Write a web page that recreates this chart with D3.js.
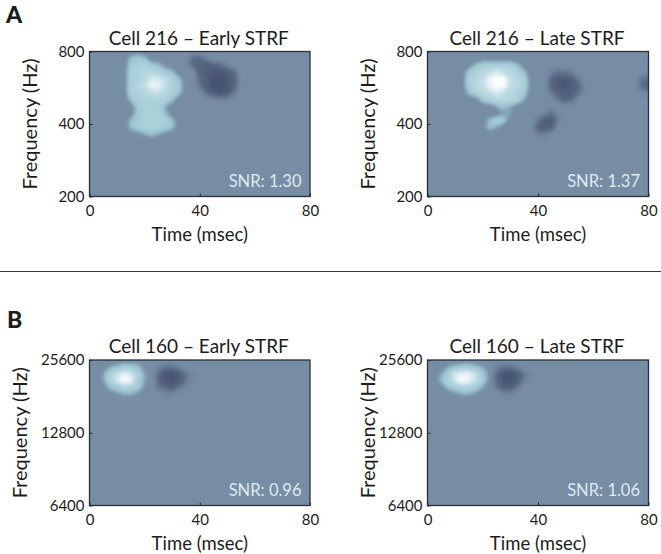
<!DOCTYPE html>
<html><head><meta charset="utf-8">
<script src="https://cdn.jsdelivr.net/npm/d3@7/dist/d3.min.js"></script>
<style>html,body{margin:0;padding:0;background:#fff}svg{display:block}text{font-family:Lato,sans-serif;fill:#1c1c1c}</style>
</head><body><svg id="c" width="661" height="554"></svg>
<script>
// Heatmap samples: [row, firstColumn, values...] on a 33 x 22 grid (2.5 msec columns, log-spaced rows). Everything else is 0.
const cell216Early = [
 [1,6,3,4,3],[2,6,4,5,5,4,3,1],[3,6,5,5,6,6,5,4,3],[4,6,5,5,6,8,8,7,5,3],
 [5,6,5,6,7,9,9,7,5,4],[6,6,5,5,6,7,7,6,5,3],[7,6,3,5,5,5,5,5,3],
 [8,7,4,5,5,5,2],[9,7,4,5,5,5,3],[10,6,3,4,5,5,5,5,3],[11,6,3,4,5,5,5,4,3],[12,7,1,2,3,2,1],
 [1,15,-4,-4,-2],[2,15,-4,-5,-6,-5,-4,-2],[3,16,-5,-6,-7,-7,-6,-4],[4,16,-4,-6,-8,-8,-7,-5],
 [5,16,-3,-6,-8,-8,-7,-5],[6,17,-4,-6,-7,-6,-3],[7,18,-1,-2,-1]
];
const cell216Late = [
 [2,7,3,5,5,5,5,5,3],[3,6,4,5,6,7,8,7,6,5,3],[4,6,5,6,7,9,10,10,7,6,5],[5,6,5,6,7,9,10,10,7,6,5],
 [6,6,3,5,6,7,8,7,6,5,4],[7,8,4,5,6,6,6,5,2],[8,10,2,3,2],
 [9,11,2,2],[10,9,3,5,4],[11,8,1,3,2],
 [3,18,-2,-3,-3,-2],[4,18,-5,-6,-7,-5,-2],[5,18,-5,-7,-7,-6,-4],[6,18,-3,-5,-6,-6,-3],[7,19,-3,-5,-3],
 [9,17,-2,-4,-1],[10,16,-3,-6,-6,-2],[11,16,-5,-6,-5],[12,16,-2,-2],
 [3,32,-1],[4,31,-3,-4],[5,31,-4,-5],[6,31,-1,-2]
];
const cell160Early = [
 [1,3,2,3,4,4,3,1],[2,2,2,5,7,9,8,5,2,1],[3,2,2,5,8,10,9,5,2,1],[4,3,3,4,5,5,4,1],[5,4,1,2,2,1],
 [1,10,-2,-3,-3,-2],[2,10,-4,-7,-8,-6,-3,-1],[3,10,-4,-7,-8,-6,-3,-1],[4,10,-3,-4,-5,-3,-1],[5,11,-1,-1],
 [7,11,0.6],[8,11,0.6]
];
const cell160Late = [
 [1,3,2,3,4,4,3,2,1],[2,2,2,5,8,9,9,7,4,1],[3,2,3,5,8,10,9,7,4,1],[4,3,3,4,5,5,4,2],[5,4,1,2,2,1],
 [1,10,-2,-3,-3,-2],[2,10,-4,-7,-8,-6,-3,-1],[3,10,-4,-8,-8,-6,-2,-1],[4,10,-3,-5,-5,-3],[5,11,-1,-1],
 [7,11,0.6],[8,11,0.6]
];
const timeTicks = [0,40,80];
const freqTicksA = [200,400,800];
const freqTicksB = [6400,12800,25600];
const colorStops = [-8,-4,-1.5,1.5,3,5,7,8.5,10];
const colorValues = ["#46536f","#5a6a86","#72889f","#7a91a8","#9cc4d0","#abd0da","#c2dde5","#dfeff3","#ffffff"];
const colsN = 33, rowsN = 22;

const panels = [
 {title:"Cell 216 – Early STRF",snr:"SNR: 1.30",data:cell216Early,ft:freqTicksA,x:[89.5,310],y:[51.5,196.5],lab:30},
 {title:"Cell 216 – Late STRF", snr:"SNR: 1.37",data:cell216Late, ft:freqTicksA,x:[427.5,648.5],y:[51.5,196.5],lab:368},
 {title:"Cell 160 – Early STRF",snr:"SNR: 0.96",data:cell160Early,ft:freqTicksB,x:[89.5,310],y:[360,505.5],lab:20},
 {title:"Cell 160 – Late STRF", snr:"SNR: 1.06",data:cell160Late, ft:freqTicksB,x:[427.5,648.5],y:[360,505.5],lab:368}
];
const svg = d3.select("#c");
const color = d3.scaleLinear().domain(colorStops).range(colorValues).clamp(true);
const defs = svg.append("defs");
defs.append("filter").attr("id","soft").attr("x","0").attr("y","0").attr("width","1").attr("height","1")
  .append("feGaussianBlur").attr("stdDeviation",1.7);

panels.forEach((p,idx)=>{
  const x = d3.scaleLinear().domain([0,80]).range(p.x);
  const y = d3.scaleLog().base(2).domain([p.ft[0],p.ft[2]]).range([p.y[1],p.y[0]]);
  const grid = new Array(colsN*rowsN).fill(0);
  p.data.forEach(([r,c,...vals])=>vals.forEach((v,k)=>{grid[r*colsN+c+k]=v;}));
  const tAt = i=>(i-0.5)*80/(colsN-1);
  const fAt = j=>p.ft[2]*Math.pow(p.ft[0]/p.ft[2],(j-0.5)/(rowsN-1));
  const geo = d3.geoPath(d3.geoTransform({point(a,b){this.stream.point(x(tAt(a)),y(fAt(b)));}}));
  const thresholds = d3.range(-9.75,10.5,0.5);
  const contours = d3.contours().size([colsN,rowsN]).smooth(true).thresholds(thresholds)(grid);
  defs.append("clipPath").attr("id","clip"+idx).append("rect")
    .attr("x",p.x[0]).attr("y",p.y[0]).attr("width",p.x[1]-p.x[0]).attr("height",p.y[1]-p.y[0]);
  const g = svg.append("g").attr("clip-path",`url(#clip${idx})`).append("g").attr("filter","url(#soft)");
  g.append("rect").attr("x",p.x[0]-6).attr("y",p.y[0]-6).attr("width",p.x[1]-p.x[0]+12).attr("height",p.y[1]-p.y[0]+12).attr("fill",color(0));
  g.selectAll("path").data(contours).join("path").attr("d",geo)
    .attr("fill",d=>color(d.value+0.25)).attr("stroke",d=>color(d.value+0.25)).attr("stroke-width",0.3);

  const ax = svg.append("g").attr("transform",`translate(0,${p.y[1]})`)
    .call(d3.axisBottom(x).tickValues(timeTicks).tickSizeInner(-3).tickSizeOuter(0).tickPadding(9).tickFormat(d3.format("d")));
  const ay = svg.append("g").attr("transform",`translate(${p.x[0]},0)`)
    .call(d3.axisLeft(y).tickValues(p.ft).tickSizeInner(-3).tickSizeOuter(0).tickPadding(5).tickFormat(d3.format("d")));
  [ax,ay].forEach(a=>{a.select(".domain").remove();a.selectAll("line").attr("stroke","#222");
    a.selectAll("text").attr("font-size",15).style("font-family","Lato,sans-serif").style("fill","#1c1c1c");});
  svg.append("rect").attr("x",p.x[0]).attr("y",p.y[0]).attr("width",p.x[1]-p.x[0]).attr("height",p.y[1]-p.y[0])
    .attr("fill","none").attr("stroke","#2a2e36").attr("stroke-width",1.3);

  const cx=(p.x[0]+p.x[1])/2;
  svg.append("text").attr("x",cx-1).attr("y",p.y[0]-7).attr("text-anchor","middle").attr("font-size",19).text(p.title);
  svg.append("text").attr("x",cx).attr("y",p.y[1]+44).attr("text-anchor","middle").attr("font-size",18.5).text("Time (msec)");
  svg.append("text").attr("transform",`translate(${p.lab},${(p.y[0]+p.y[1])/2}) rotate(-90)`).attr("text-anchor","middle").attr("dy","0.35em").attr("font-size",20).text("Frequency (Hz)");
  svg.append("text").attr("x",p.x[1]-8.5).attr("y",p.y[1]-10).attr("text-anchor","end").attr("font-size",16.5).style("fill","#dfeaf0").text(p.snr);
});
svg.append("line").attr("x1",0).attr("x2",661).attr("y1",271.5).attr("y2",271.5).attr("stroke","#3a3a3a").attr("stroke-width",1.2);
svg.append("text").attr("x",6).attr("y",23).attr("font-size",23).attr("font-weight",900).text("A");
svg.append("text").attr("x",7).attr("y",328).attr("font-size",23).attr("font-weight",900).text("B");
</script></body></html>
